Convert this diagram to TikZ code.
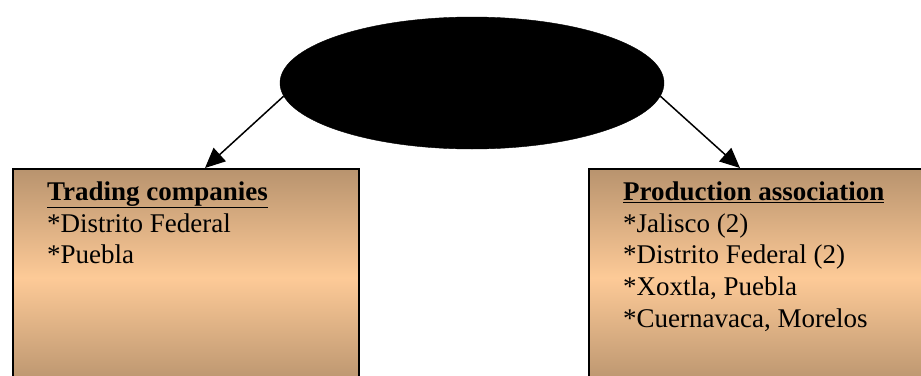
\documentclass[tikz,border=0pt]{standalone}
\usepackage{fontspec}
\setmainfont{Liberation Serif}
\usetikzlibrary{arrows.meta,shapes.geometric,calc}
\definecolor{tanedge}{RGB}{184,147,110}
\definecolor{tanmid}{RGB}{253,202,151}
\tikzset{
  x=1pt,y=1pt,
  boxstyle/.style={draw=black,line width=1.8pt,rectangle,anchor=north west,inner sep=0pt,
    top color=tanedge,bottom color=tanedge,middle color=tanmid},
  linetext/.style={anchor=base west,inner sep=0pt,font=\fontsize{27}{31}\selectfont},
  arrowline/.style={line width=1.5pt,-{Triangle[length=20pt,width=18pt]}}
}
\begin{document}
\begin{tikzpicture}
\useasboundingbox (0,0) rectangle (921,-375);
\begin{scope}
\clip (0,0) rectangle (921,-375);
\node[boxstyle,minimum width=346pt,minimum height=218pt] (L) at (12,-168) {};
\node[boxstyle,minimum width=340pt,minimum height=218pt] (R) at (588,-168) {};
\end{scope}
\node[ellipse,fill=black,draw=black,minimum width=384pt,minimum height=132pt,inner sep=0pt] (E) at (472,-83) {};
\node[linetext] (l1) at (47,-200) {\textbf{\underline{Trading companies}}};
\node[linetext] (l2) at (47,-232) {*Distrito Federal};
\node[linetext] (l3) at (47,-263) {*Puebla};
\node[linetext] (r1) at (623,-200) {\textbf{\underline{Production association}}};
\node[linetext] (r2) at (623,-232) {*Jalisco (2)};
\node[linetext] (r3) at (623,-263) {*Distrito Federal (2)};
\node[linetext] (r4) at (623,-295) {*Xoxtla, Puebla};
\node[linetext] (r5) at (623,-327) {*Cuernavaca, Morelos};
\coordinate (lt) at (205,-168);
\coordinate (rt) at (740,-168);
\draw[arrowline] (E.184) -- (lt);
\draw[arrowline] (E.356) -- (rt);
\end{tikzpicture}
\end{document}
